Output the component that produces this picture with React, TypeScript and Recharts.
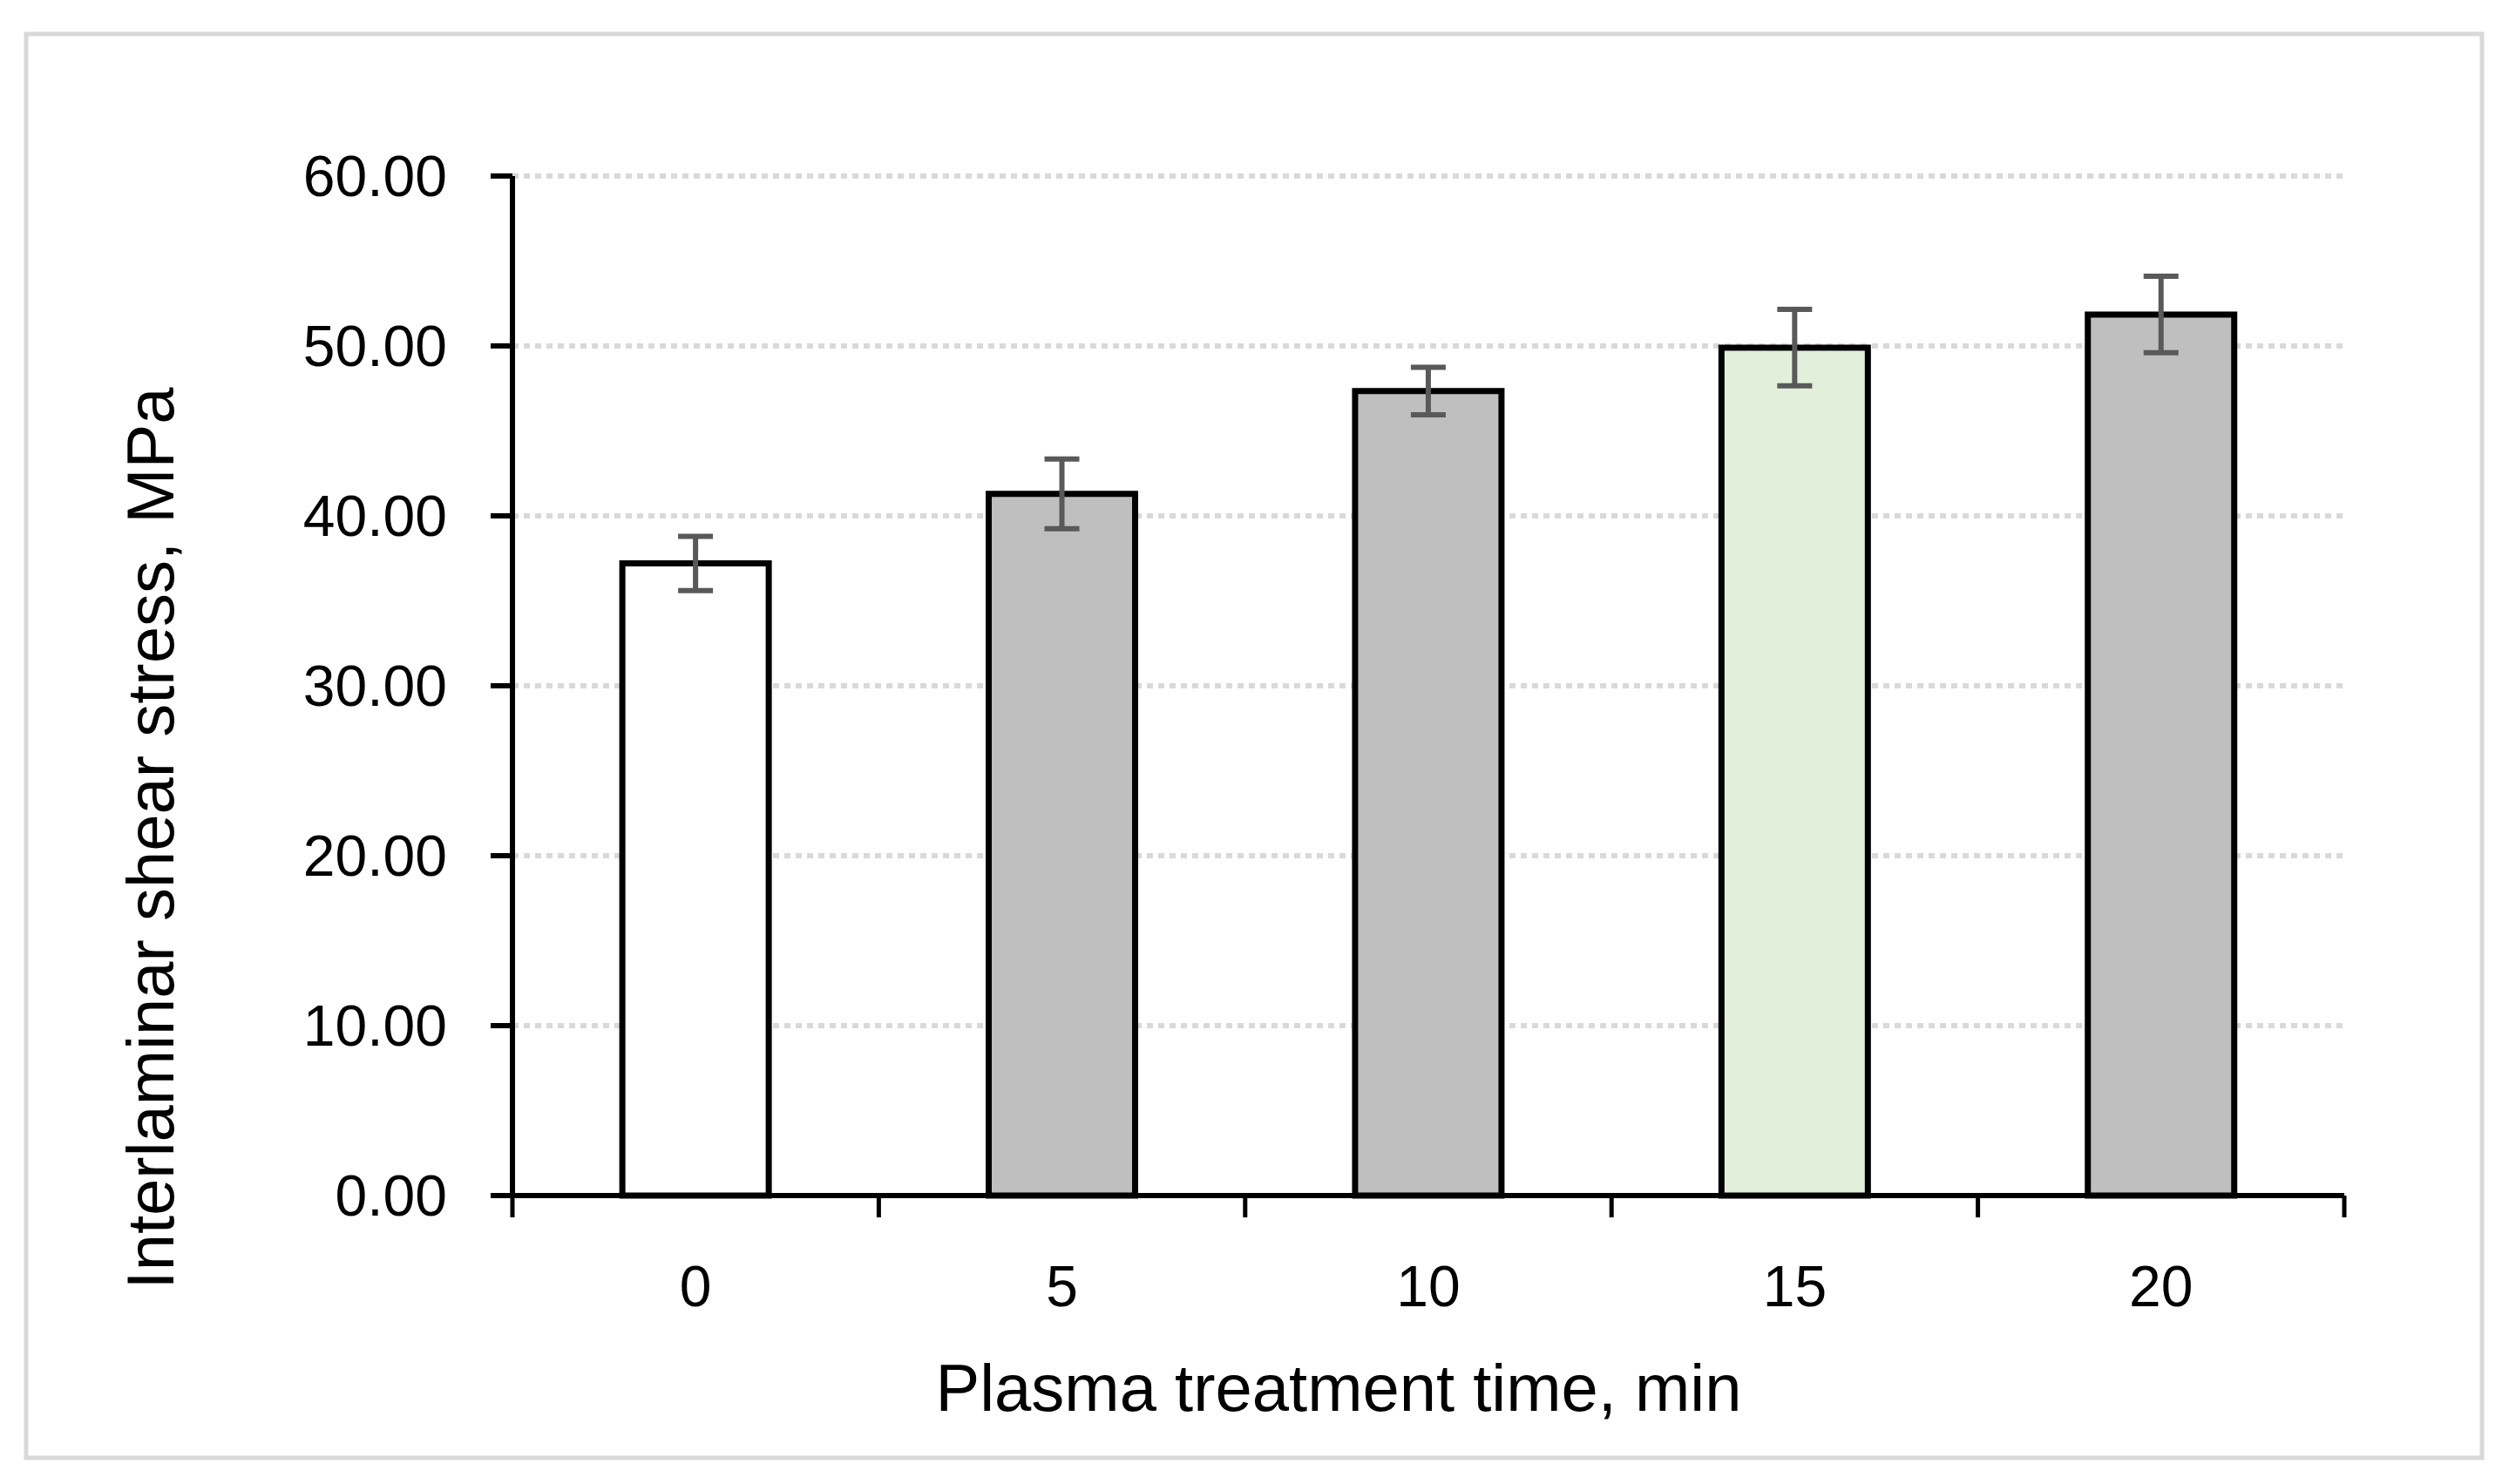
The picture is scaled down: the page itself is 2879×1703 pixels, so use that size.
import React from 'react';
import { BarChart, Bar, XAxis, YAxis, CartesianGrid, ErrorBar, Cell } from 'recharts';

const times = ['0', '5', '10', '15', '20'];
const shearStress = [37.2, 41.3, 47.35, 49.9, 51.85];
const stdDev = [1.6, 2.05, 1.4, 2.25, 2.25];
const barFills = ['#ffffff', '#bfbfbf', '#bfbfbf', '#e2efda', '#bfbfbf'];
const yTicks = [0, 10, 20, 30, 40, 50, 60];

const data = times.map((t, i) => ({ time: t, value: shearStress[i], err: stdDev[i] }));

const W = 2879;
const H = 1703;
const FONT = '"Liberation Sans", Arial, sans-serif';
const PLOT_LEFT = 588;
const PLOT_RIGHT = 2690;
const PLOT_TOP = 202;
const PLOT_BOTTOM = 1372;
const BAND = (PLOT_RIGHT - PLOT_LEFT) / times.length;

// category label plus tick marks on the category boundaries, Excel style
const TimeTick = (props: any) => {
	const { x, y, payload, index } = props;
	const half = payload && payload.offset ? payload.offset : BAND / 2;
	return (
		<g>
			<line x1={x - half} y1={y} x2={x - half} y2={y + 25} stroke="#000" strokeWidth={5} />
			{index === times.length - 1 && (
				<line x1={x + half} y1={y} x2={x + half} y2={y + 25} stroke="#000" strokeWidth={5} />
			)}
			<text x={x} y={y + 127} textAnchor="middle" fontFamily={FONT} fontSize={66} fill="#000">
				{payload.value}
			</text>
		</g>
	);
};

export default function App() {
	return (
		<div style={{ position: 'absolute', left: 0, top: 0, width: W, height: H, background: '#fff' }}>
			<BarChart
				width={W}
				height={H}
				data={data}
				barCategoryGap="30%"
				margin={{ top: PLOT_TOP, right: W - PLOT_RIGHT, bottom: H - PLOT_BOTTOM - 100, left: 0 }}
			>
				<CartesianGrid vertical={false} stroke="#d9d9d9" strokeWidth={6} strokeDasharray="7 6" />
				<XAxis
					dataKey="time"
					height={100}
					axisLine={{ stroke: '#000', strokeWidth: 6 }}
					tickLine={false}
					tickSize={0}
					tickMargin={0}
					interval={0}
					tick={<TimeTick />}
				/>
				<YAxis
					width={PLOT_LEFT}
					domain={[0, 60]}
					ticks={yTicks}
					interval={0}
					tickFormatter={(v: number) => v.toFixed(2)}
					axisLine={{ stroke: '#000', strokeWidth: 6 }}
					tickLine={{ stroke: '#000', strokeWidth: 6 }}
					tickSize={25}
					tickMargin={50}
					tick={{ fontFamily: FONT, fontSize: 66, fill: '#000' }}
				/>
				<Bar dataKey="value" stroke="#000" strokeWidth={7} isAnimationActive={false}>
					{data.map((d, i) => (
						<Cell key={d.time} fill={barFills[i]} />
					))}
					<ErrorBar dataKey="err" width={20} stroke="#595959" strokeWidth={6} direction="y" />
				</Bar>
			</BarChart>
			<svg
				width={W}
				height={H}
				style={{ position: 'absolute', left: 0, top: 0, pointerEvents: 'none' }}
			>
				<rect x={30} y={39} width={2818} height={1634} fill="none" stroke="#d9d9d9" strokeWidth={5} />
				<text x={1536} y={1619} textAnchor="middle" fontFamily={FONT} fontSize={76} fill="#000">
					Plasma treatment time, min
				</text>
				<text
					x={199}
					y={962}
					transform="rotate(-90 199 962)"
					textAnchor="middle"
					fontFamily={FONT}
					fontSize={76}
					fill="#000"
				>
					Interlaminar shear stress, MPa
				</text>
			</svg>
		</div>
	);
}
